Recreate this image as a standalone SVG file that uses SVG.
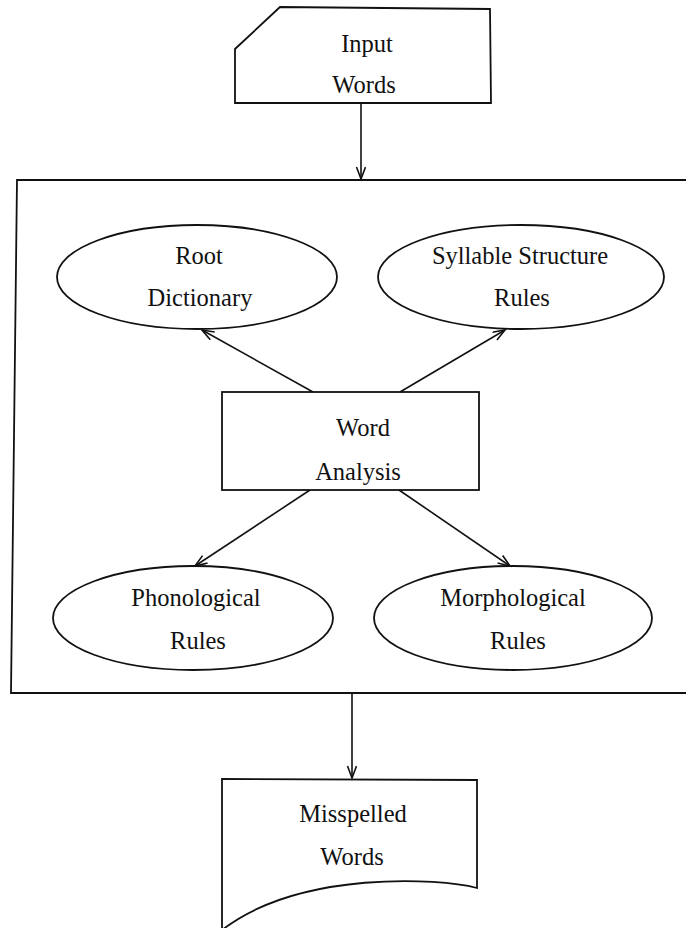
<svg xmlns="http://www.w3.org/2000/svg" width="686" height="928" viewBox="0 0 686 928">
  <style>
    .shape { fill: none; stroke: #111; stroke-width: 1.8; stroke-linejoin: miter; }
    .edge { fill: none; stroke: #111; stroke-width: 1.6; }
    .label { font-family: "Liberation Serif", "Times New Roman", serif; font-size: 24.5px; fill: #111; text-anchor: middle; }
  </style>
  <defs>
    <marker id="arrow" markerUnits="userSpaceOnUse" markerWidth="16" markerHeight="12" refX="13" refY="5" orient="auto">
      <path d="M1,0.5 L13,5 L1,9.5" fill="none" stroke="#111" stroke-width="1.6"/>
    </marker>
  </defs>
  <rect width="686" height="928" fill="#fff"/>

  <!-- input document (card shape with clipped corner) -->
  <g id="input-words">
    <path class="shape" d="M280,7 L490,9 L491,103 L235,103 L235,49 Z"/>
    <text class="label" x="367" y="52">Input</text>
    <text class="label" x="364" y="93">Words</text>
  </g>

  <!-- processing boundary, open on the right -->
  <g id="analysis-system">
    <path class="shape" d="M700,180 L17,180 L11,693 L700,693"/>
  </g>

  <g id="root-dictionary">
    <ellipse class="shape" cx="197" cy="277" rx="140" ry="52"/>
    <text class="label" x="199" y="264">Root</text>
    <text class="label" x="200" y="306">Dictionary</text>
  </g>

  <g id="syllable-rules">
    <ellipse class="shape" cx="521" cy="277" rx="143" ry="52"/>
    <text class="label" x="520" y="264">Syllable Structure</text>
    <text class="label" x="522" y="306">Rules</text>
  </g>

  <g id="word-analysis">
    <rect class="shape" x="222" y="392" width="257" height="98"/>
    <text class="label" x="363" y="436">Word</text>
    <text class="label" x="358" y="480">Analysis</text>
  </g>

  <g id="phonological-rules">
    <ellipse class="shape" cx="193" cy="618" rx="140" ry="52"/>
    <text class="label" x="196" y="606">Phonological</text>
    <text class="label" x="198" y="649">Rules</text>
  </g>

  <g id="morphological-rules">
    <ellipse class="shape" cx="513" cy="618" rx="139" ry="52"/>
    <text class="label" x="513" y="606">Morphological</text>
    <text class="label" x="518" y="649">Rules</text>
  </g>

  <!-- output document with wavy lower edge -->
  <g id="misspelled-words">
    <path class="shape" d="M222,779 L477,780 L477,888 C440,878 300,870 222,930 Z"/>
    <text class="label" x="353" y="822">Misspelled</text>
    <text class="label" x="352" y="865">Words</text>
  </g>

  <g id="connectors">
    <line class="edge" x1="361" y1="103" x2="361" y2="179" marker-end="url(#arrow)"/>
    <line class="edge" x1="313" y1="392" x2="202" y2="330" marker-end="url(#arrow)"/>
    <line class="edge" x1="400" y1="392" x2="505" y2="330" marker-end="url(#arrow)"/>
    <line class="edge" x1="310" y1="490" x2="195" y2="566" marker-end="url(#arrow)"/>
    <line class="edge" x1="399" y1="490" x2="510" y2="566" marker-end="url(#arrow)"/>
    <line class="edge" x1="352" y1="693" x2="352" y2="778" marker-end="url(#arrow)"/>
  </g>
</svg>
